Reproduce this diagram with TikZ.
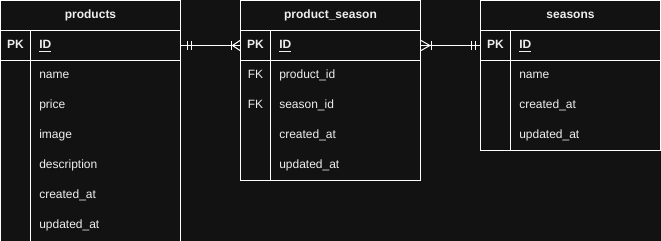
\documentclass[tikz,border=0pt]{standalone}
\usepackage{fontspec}
\setmainfont{Liberation Sans}
\begin{document}
\begin{tikzpicture}[x=0.75pt,y=-0.75pt,
  edge/.style={draw=white,line width=0.75pt},
  txt/.style={text=textgray,inner sep=0pt,font=\fontsize{9pt}{11pt}\selectfont},
  field/.style={txt,anchor=base west},
  keycol/.style={txt,anchor=base,font=\fontsize{9pt}{11pt}\selectfont\bfseries},
  title/.style={txt,anchor=base,font=\fontsize{9pt}{11pt}\selectfont\bfseries},
  pkfield/.style={txt,anchor=base west,font=\fontsize{9pt}{11pt}\selectfont\bfseries}]
\definecolor{bg}{HTML}{121212}
\definecolor{textgray}{HTML}{EEEEEE}
\fill[bg] (0,0) rectangle (661,241);
\useasboundingbox (0,0) rectangle (661,241);

% ---------- products ----------
\draw[edge] (0.5,241) -- (0.5,0.5) -- (180.5,0.5) -- (180.5,241);
\draw[edge] (0.5,30.5) -- (180.5,30.5);
\draw[edge] (0.5,60.5) -- (180.5,60.5);
\draw[edge] (30.5,30.5) -- (30.5,241);
\node[title] (pT) at (90.5,19) {products};
\node[keycol] (pPK) at (15.5,49) {PK};
\node[pkfield] (pID) at (39,49) {\underline{ID}};
\node[field] (pName) at (39,79) {name};
\node[field] (pPrice) at (39,109) {price};
\node[field] (pImage) at (39,139) {image};
\node[field] (pDesc) at (39,169) {description};
\node[field] (pCreated) at (39,199) {created\_at};
\node[field] (pUpdated) at (39,229) {updated\_at};
\coordinate (pEdge) at (180.5,45.5);

% ---------- product_season ----------
\draw[edge] (240.5,0.5) rectangle (420.5,180.5);
\draw[edge] (240.5,30.5) -- (420.5,30.5);
\draw[edge] (240.5,60.5) -- (420.5,60.5);
\draw[edge] (270.5,30.5) -- (270.5,180.5);
\node[title] (psT) at (330.5,19) {product\_season};
\node[keycol] (psPK) at (255.5,49) {PK};
\node[pkfield] (psID) at (279,49) {\underline{ID}};
\node[keycol,font=\fontsize{9pt}{11pt}\selectfont] (psFK1) at (255.5,79) {FK};
\node[field] (psProd) at (279,79) {product\_id};
\node[keycol,font=\fontsize{9pt}{11pt}\selectfont] (psFK2) at (255.5,109) {FK};
\node[field] (psSeason) at (279,109) {season\_id};
\node[field] (psCreated) at (279,139) {created\_at};
\node[field] (psUpdated) at (279,169) {updated\_at};
\coordinate (psLeft) at (240.5,45.5);
\coordinate (psRight) at (420.5,45.5);

% ---------- seasons ----------
\draw[edge] (480.5,0.5) rectangle (660.5,150.5);
\draw[edge] (480.5,30.5) -- (660.5,30.5);
\draw[edge] (480.5,60.5) -- (660.5,60.5);
\draw[edge] (510.5,30.5) -- (510.5,150.5);
\node[title] (sT) at (570.5,19) {seasons};
\node[keycol] (sPK) at (495.5,49) {PK};
\node[pkfield] (sID) at (519,49) {\underline{ID}};
\node[field] (sName) at (519,79) {name};
\node[field] (sCreated) at (519,109) {created\_at};
\node[field] (sUpdated) at (519,139) {updated\_at};
\coordinate (sEdge) at (480.5,45.5);

% ---------- relationships ----------
% products (one, mandatory) -- product_season (one or many)
\draw[edge] (pEdge) -- (psLeft);
\draw[edge] ([xshift=5]pEdge) ++(0,-4.5) -- ++(0,9);
\draw[edge] ([xshift=8]pEdge) ++(0,-4.5) -- ++(0,9);
\draw[edge] ([xshift=-7]psLeft) ++(0,-4.5) -- ++(0,9);
\draw[edge] ([xshift=-6]psLeft) -- ([yshift=-4]psLeft);
\draw[edge] ([xshift=-6]psLeft) -- ([yshift=4]psLeft);

% product_season (one or many) -- seasons (one, mandatory)
\draw[edge] (psRight) -- (sEdge);
\draw[edge] ([xshift=8]psRight) ++(0,-4.5) -- ++(0,9);
\draw[edge] ([xshift=7]psRight) -- ([yshift=-4]psRight);
\draw[edge] ([xshift=7]psRight) -- ([yshift=4]psRight);
\draw[edge] ([xshift=-7]sEdge) ++(0,-4.5) -- ++(0,9);
\draw[edge] ([xshift=-4]sEdge) ++(0,-4.5) -- ++(0,9);
\end{tikzpicture}
\end{document}
